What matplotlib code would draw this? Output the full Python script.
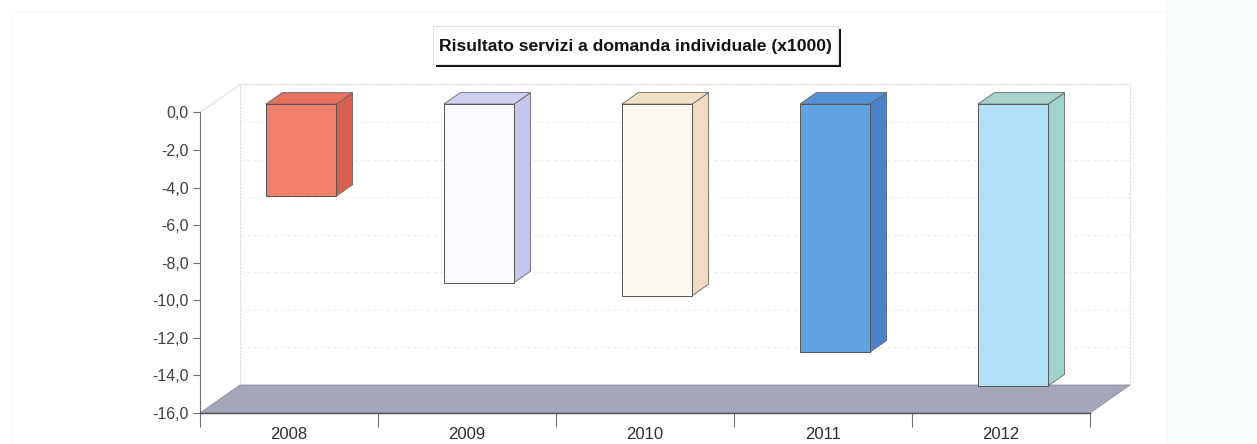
import matplotlib.pyplot as plt
from matplotlib.patches import Polygon, Rectangle
from matplotlib.ticker import FuncFormatter

# data
years = ['2008', '2009', '2010', '2011', '2012']
values = [-4.9, -9.5, -10.2, -13.2, -15.0]
front_colors = ['#f0806c', '#fbfbff', '#fdf8f0', '#5fa3e3', '#b2e0f8']
side_colors = ['#d9604e', '#c4c6ee', '#f0dcc0', '#4a82cc', '#a2d2cc']
top_colors = ['#e8705e', '#cfd0f2', '#f2e0c6', '#5590d6', '#a8d4cc']
yticks = [0, -2, -4, -6, -8, -10, -12, -14, -16]

W, H = 1257, 444
fig = plt.figure(figsize=(W / 100, H / 100), dpi=100)
fig.patch.set_facecolor('white')
plt.rcParams['font.family'] = ['Liberation Sans', 'DejaVu Sans']

# plot area: front plane of the pseudo 3D chart
left, right, top, bottom = 200, 1090, 112.5, 413
ax = fig.add_axes([left / W, (H - bottom) / H, (right - left) / W, (bottom - top) / H])
ax.set_xlim(-0.5, 4.5)
ax.set_ylim(-16, 0)
ax.patch.set_alpha(0)

# depth of the 3D box in data units (40 px across, 28 px up)
px_x = (right - left) / 5.0
px_y = (bottom - top) / 16.0
DX = 40 / px_x
DY = 28 / px_y
f1, f2 = 0.30, 0.71   # bar front / back depth fractions
bw = 0.395

# faint outer background
fig.patches.append(Rectangle((1166 / W, 0), (W - 1166) / W, 1, transform=fig.transFigure,
                             facecolor='#f9fcfc', edgecolor='none', zorder=-5))
fig.patches.append(Rectangle((12 / W, -0.1), 1154 / W, (H - 12) / H + 0.1, transform=fig.transFigure,
                             facecolor='none', edgecolor='#ececec', lw=0.8, ls=':', zorder=-4))

# back wall + side wall
bx0, bx1 = -0.5 + DX, 4.5 + DX
ax.plot([bx0, bx0, bx1, bx1], [-16 + DY, DY, DY, -16 + DY], color='#d8d8d8', lw=0.8,
        ls=(0, (2, 1)), clip_on=False, zorder=1)
ax.plot([-0.5, bx0], [0, DY], color='#e0e0e0', lw=0.8, clip_on=False, zorder=1)
for t in yticks[1:-1]:
    ax.plot([bx0, bx1], [t + DY, t + DY], color='#eeeeee', lw=0.8, ls=(0, (3, 3)),
            clip_on=False, zorder=1)

# floor
ax.add_patch(Polygon([(-0.5, -16), (4.5, -16), (4.5 + DX, -16 + DY), (-0.5 + DX, -16 + DY)],
                     closed=True, facecolor='#a4a6ba', edgecolor='#8c8ea0', lw=0.6,
                     clip_on=False, zorder=2))

# bars
xs = list(range(len(years)))
ax.bar([x + f1 * DX for x in xs], values, width=bw, bottom=f1 * DY,
       color=front_colors, edgecolor='#555555', linewidth=0.7, clip_on=False, zorder=4)
for x, v, sc, tc in zip(xs, values, side_colors, top_colors):
    x0 = x - bw / 2 + f1 * DX
    x1 = x0 + bw
    d = f2 - f1
    ytop = f1 * DY
    ybot = f1 * DY + v
    ax.add_patch(Polygon([(x1, ybot), (x1, ytop), (x1 + d * DX, ytop + d * DY), (x1 + d * DX, ybot + d * DY)],
                         closed=True, facecolor=sc, edgecolor='#666666', lw=0.6,
                         clip_on=False, zorder=3))
    ax.add_patch(Polygon([(x0, ytop), (x1, ytop), (x1 + d * DX, ytop + d * DY), (x0 + d * DX, ytop + d * DY)],
                         closed=True, facecolor=tc, edgecolor='#666666', lw=0.6,
                         clip_on=False, zorder=3))

# axes styling
for s in ['top', 'right']:
    ax.spines[s].set_visible(False)
ax.spines['left'].set_color('#707070')
ax.spines['bottom'].set_color('#505050')
ax.spines['left'].set_linewidth(0.8)
ax.spines['bottom'].set_linewidth(1.0)
ax.set_yticks(yticks)
ax.yaxis.set_major_formatter(FuncFormatter(lambda v, p: f'{v:.1f}'.replace('.', ',')))
ax.tick_params(axis='y', length=5, color='#707070', labelsize=11.5, labelcolor='#404040', pad=3)
ax.set_xticks(xs)
ax.set_xticklabels(years)
ax.set_xticks([x - 0.5 for x in xs] + [4.5], minor=True)
ax.tick_params(axis='x', which='major', length=0, labelsize=12, labelcolor='#303030', pad=10)
ax.tick_params(axis='x', which='minor', length=10, color='#707070', width=0.8)

# title box with black drop shadow
bx, by, bwid, bht = 433, 26, 405, 38
fig.patches.append(Rectangle(((bx + 3) / W, 1 - (by + bht + 3) / H), bwid / W, bht / H,
                             transform=fig.transFigure, facecolor='#111111', edgecolor='none', zorder=1))
fig.patches.append(Rectangle((bx / W, 1 - (by + bht) / H), bwid / W, bht / H,
                             transform=fig.transFigure, facecolor='white', edgecolor='#e2e2e2',
                             lw=0.8, zorder=2))
fig.text((bx + bwid / 2) / W, 1 - 46 / H, 'Risultato servizi a domanda individuale (x1000)',
         ha='center', va='center', fontsize=12.6, fontweight='bold', color='#111111', zorder=3)

fig.savefig('out.png', dpi=100)
